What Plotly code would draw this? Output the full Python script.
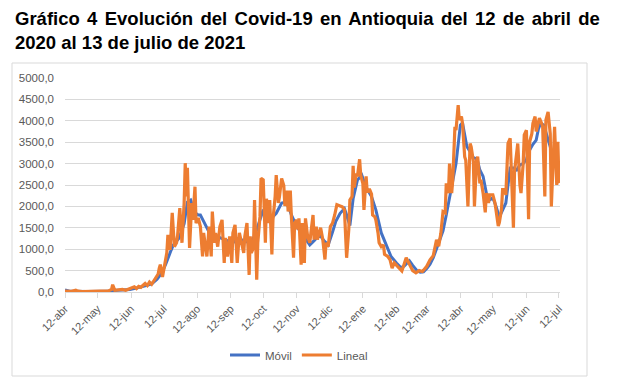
import pandas as pd
import plotly.graph_objects as go

start_date = "2020-04-12"
end_date = "2021-07-13"

# Daily cases ("Lineal") as (day offset from 12-abr-2020, value)
lineal_day = [0, 3, 6, 10, 12, 16, 20, 25, 30, 35, 40, 43, 44, 46, 50, 53, 56, 59, 62, 64, 66, 68, 70, 72, 74, 76, 78, 80, 82, 84, 86, 87, 88, 90, 92, 94, 95, 97, 99, 101, 103, 104, 106, 108, 110, 111, 112, 113, 115, 117, 118, 120, 121, 123, 125, 127, 128, 131, 133, 135, 136, 138, 139, 141, 143, 145, 147, 148, 150, 152, 154, 155, 157, 159, 161, 163, 165, 166, 168, 170, 171, 172, 174, 175, 177, 178, 180, 181, 183, 185, 186, 188, 189, 191, 192, 194, 195, 197, 198, 200, 202, 203, 205, 206, 208, 209, 211, 212, 214, 215, 216, 218, 219, 221, 222, 224, 226, 227, 229, 230, 232, 233, 235, 236, 238, 240, 241, 243, 245, 247, 249, 251, 254, 256, 258, 260, 262, 263, 265, 266, 267, 269, 270, 272, 273, 275, 276, 278, 279, 281, 283, 284, 286, 287, 289, 290, 292, 294, 295, 298, 300, 302, 304, 307, 309, 311, 313, 315, 318, 321, 324, 327, 330, 333, 334, 337, 340, 343, 345, 347, 349, 351, 352, 354, 355, 357, 358, 360, 361, 363, 364, 366, 367, 369, 370, 372, 374, 375, 377, 378, 380, 381, 383, 384, 386, 388, 389, 391, 392, 394, 395, 397, 398, 400, 401, 403, 404, 406, 407, 409, 411, 412, 414, 415, 417, 418, 420, 421, 423, 424, 426, 428, 429, 431, 432, 434, 435, 437, 438, 440, 441, 443, 444, 446, 448, 449, 451, 452, 454, 455, 456, 457]
lineal_value = [20, 10, 15, 40, 20, 10, 10, 12, 10, 15, 25, 60, 170, 40, 50, 60, 40, 70, 90, 120, 80, 130, 110, 160, 200, 150, 230, 180, 260, 330, 420, 550, 640, 350, 600, 915, 1335, 985, 1850, 1060, 1150, 1335, 1960, 1150, 2080, 3010, 2230, 2900, 1030, 2080, 1685, 2460, 1610, 1730, 1530, 830, 1380, 830, 1530, 830, 1880, 1150, 1380, 1060, 1530, 1685, 680, 1265, 830, 1300, 680, 1380, 1570, 680, 1380, 1150, 915, 1300, 1610, 400, 1300, 915, 1030, 2150, 290, 1150, 1760, 2655, 2620, 1150, 2180, 1610, 2150, 880, 1685, 2230, 2730, 2080, 2230, 2655, 2490, 2010, 2370, 1880, 2370, 1760, 800, 1610, 1685, 1460, 1720, 640, 1610, 680, 1720, 1300, 1150, 1380, 1800, 1225, 1530, 1225, 1380, 1500, 1225, 760, 1150, 1060, 1530, 1610, 1800, 2040, 2010, 1990, 1920, 800, 1460, 2150, 2230, 2950, 2440, 2770, 2700, 3100, 2730, 2530, 1920, 2700, 2330, 2410, 2290, 1800, 1760, 1685, 1380, 1150, 1060, 1100, 880, 830, 760, 560, 680, 600, 560, 490, 640, 800, 650, 500, 450, 500, 480, 560, 600, 750, 850, 1220, 1070, 1370, 1880, 1850, 2540, 2310, 3000, 2310, 2620, 3860, 3780, 4365, 4020, 4100, 3940, 3160, 3080, 2000, 3470, 3390, 3050, 2000, 3080, 3160, 2540, 2620, 2310, 1860, 2310, 2080, 2270, 2270, 2270, 2080, 1860, 1540, 1620, 1940, 2390, 2390, 2270, 3470, 3590, 2940, 1500, 2810, 3390, 3470, 2500, 2310, 3000, 3670, 3780, 1700, 3510, 3700, 3940, 4100, 3750, 4020, 4060, 3940, 3860, 2230, 4020, 4210, 3700, 2000, 3240, 3860, 2500, 3510, 2620, 2550]

# Moving average ("Móvil")
movil_day = [0, 2, 5, 20, 40, 45, 50, 55, 60, 65, 70, 75, 80, 85, 88, 90, 93, 95, 98, 100, 103, 105, 108, 110, 113, 116, 118, 120, 123, 125, 128, 130, 133, 135, 140, 145, 150, 155, 160, 165, 170, 175, 178, 183, 186, 189, 192, 195, 200, 204, 207, 209, 214, 220, 226, 230, 235, 239, 243, 247, 250, 254, 258, 260, 263, 266, 270, 274, 278, 283, 287, 292, 297, 301, 306, 310, 313, 316, 318, 321, 325, 328, 331, 334, 337, 340, 343, 346, 349, 352, 355, 358, 361, 363, 365, 367, 369, 371, 374, 376, 379, 381, 383, 386, 389, 392, 395, 398, 401, 404, 407, 409, 411, 414, 417, 420, 423, 426, 429, 432, 435, 437, 439, 442, 445, 448, 451, 454, 457]
movil_value = [50, 30, 15, 10, 15, 35, 40, 45, 60, 85, 110, 150, 190, 300, 400, 480, 650, 800, 980, 1100, 1200, 1250, 1450, 1600, 2100, 2150, 2000, 1850, 1800, 1800, 1650, 1550, 1400, 1350, 1300, 1250, 1200, 1150, 1250, 1200, 1150, 1300, 1530, 1920, 1800, 1685, 1760, 1840, 2080, 2100, 1950, 1800, 1530, 1300, 1100, 1200, 1340, 1200, 1100, 1400, 1650, 1840, 1950, 1800, 1550, 2180, 2620, 2730, 2440, 2230, 1920, 1380, 1060, 830, 680, 570, 600, 680, 730, 620, 500, 460, 470, 550, 650, 800, 1000, 1200, 1430, 1800, 2160, 2600, 3000, 3500, 3900, 3950, 3700, 3400, 3280, 3150, 3120, 3050, 2850, 2700, 2310, 2150, 2200, 2000, 1750, 1900, 2080, 2500, 2900, 2900, 2850, 2970, 3000, 3100, 3320, 3450, 3550, 3800, 3940, 3900, 3650, 3390, 3080, 2980, 2950]

tick_dates = ["2020-04-12", "2020-05-12", "2020-06-12", "2020-07-12", "2020-08-12", "2020-09-12",
              "2020-10-12", "2020-11-12", "2020-12-12", "2021-01-12", "2021-02-12", "2021-03-12",
              "2021-04-12", "2021-05-12", "2021-06-12", "2021-07-12"]
tick_labels = ["12-abr", "12-may", "12-jun", "12-jul", "12-ago", "12-sep", "12-oct", "12-nov",
               "12-dic", "12-ene", "12-feb", "12-mar", "12-abr", "12-may", "12-jun", "12-jul"]
y_ticks = [0, 500, 1000, 1500, 2000, 2500, 3000, 3500, 4000, 4500, 5000]

title_line1 = "Gráfico 4 Evolución del Covid-19 en Antioquia del 12 de abril de"
title_line2 = "2020 al 13 de julio de 2021"

t0 = pd.Timestamp(start_date)
lineal_x = [t0 + pd.Timedelta(days=d) for d in lineal_day]
movil_x = [t0 + pd.Timedelta(days=d) for d in movil_day]

fig = go.Figure()
fig.add_trace(go.Scatter(x=movil_x, y=movil_value, mode="lines", name="Móvil",
                         line=dict(color="#4472C4", width=3)))
fig.add_trace(go.Scatter(x=lineal_x, y=lineal_value, mode="lines", name="Lineal",
                         line=dict(color="#ED7D31", width=3.2)))

W, H = 620, 388
L, R, T, B = 65, 60, 78, 96
pw, ph = W - L - R, H - T - B

def px_to_paper_x(px):
    return (px - L) / pw

def px_to_paper_y(py):
    return (H - B - py) / ph

fig.add_shape(type="rect", xref="paper", yref="paper",
              x0=px_to_paper_x(12), x1=px_to_paper_x(587),
              y0=px_to_paper_y(376), y1=px_to_paper_y(63),
              line=dict(color="#d9d9d9", width=1), layer="below")

title_font = dict(family="Liberation Sans, Arial, sans-serif", size=18.5, color="black")
fig.add_annotation(text="<span style='word-spacing:2.2px'><b>" + title_line1 + "</b></span>",
                   xref="paper", yref="paper",
                   x=px_to_paper_x(13), y=px_to_paper_y(6), xanchor="left", yanchor="top",
                   showarrow=False, font=title_font, align="left")
fig.add_annotation(text="<b>" + title_line2 + "</b>", xref="paper", yref="paper",
                   x=px_to_paper_x(13), y=px_to_paper_y(30), xanchor="left", yanchor="top",
                   showarrow=False, font=title_font, align="left")

fig.update_layout(
    width=W, height=H,
    margin=dict(l=L, r=R, t=T, b=B),
    paper_bgcolor="white", plot_bgcolor="white",
    separators=",.",
    showlegend=True,
    legend=dict(orientation="h", x=px_to_paper_x(299), xanchor="center",
                y=px_to_paper_y(355), yanchor="middle",
                font=dict(family="Liberation Sans, Arial, sans-serif", size=11.5, color="#595959"),
                itemwidth=30, bgcolor="rgba(0,0,0,0)"),
    font=dict(family="Liberation Sans, Arial, sans-serif", color="#595959"),
)
fig.update_xaxes(
    type="date", range=[start_date, end_date],
    tickvals=tick_dates, ticktext=tick_labels, tickangle=-45,
    tickfont=dict(size=11, color="#595959"),
    showgrid=False, showline=True, linecolor="#d9d9d9", linewidth=1,
    ticks="outside", ticklen=5, tickcolor="#d9d9d9", zeroline=False,
)
fig.update_yaxes(
    range=[0, 5000], tickvals=y_ticks, tickformat=".1f",
    tickfont=dict(size=11.5, color="#595959"),
    showgrid=True, gridcolor="#d9d9d9", gridwidth=1,
    showline=False, zeroline=False, ticks="", ticklabelstandoff=10,
)

fig.write_html("out.html", config={"displayModeBar": False},
               post_script="document.body.style.margin='0';document.body.style.padding='0';")
